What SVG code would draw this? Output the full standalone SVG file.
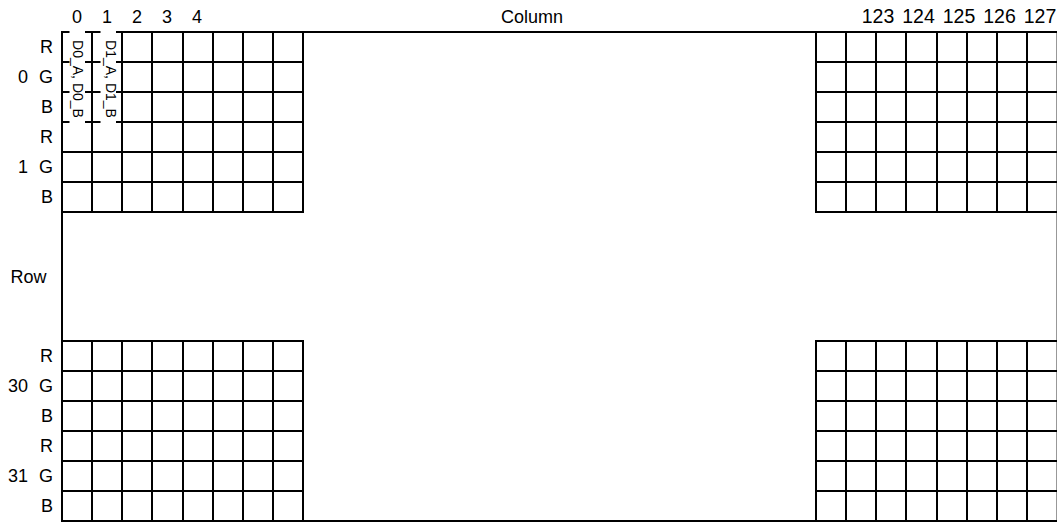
<svg xmlns="http://www.w3.org/2000/svg" width="1057" height="523" viewBox="0 0 1057 523">
<style>
.ln{stroke:#000;stroke-width:2;fill:none}
.t{font-family:"Liberation Sans",Arial,sans-serif;font-size:18px;fill:#000}
.big{font-size:19.5px}
.c{text-anchor:middle}
.r{text-anchor:end}
.v{font-family:"Liberation Sans",Arial,sans-serif;font-size:14px;fill:#000;text-anchor:middle}
</style>
<rect width="1057" height="523" fill="#fff"/>
<g id="frame">
<path class="ln" d="M61 32 H69.5 M85 32 H100.5 M116 32 H1057.6 M62 31 V522 M61 521 H1057.6 M1057.6 32 V521"/>
</g>
<g id="grid-top-left">
<path class="ln" d="M92 32 V212 M122 32 V212 M152 32 V212 M183 32 V212 M213 32 V212 M243 32 V212 M273 32 V212 M303 31 V213"/>
<path class="ln" d="M61 62 H69.5 M85 62 H100.5 M116 62 H303 M61 92 H69.5 M85 92 H100.5 M116 92 H303 M61 122 H69.5 M85 122 H100.5 M116 122 H303 M62 152 H303 M62 182 H303 M61 212 H304"/>
</g>
<g id="grid-top-right">
<path class="ln" d="M816 32 V212 M846 32 V212 M876 32 V212 M906 32 V212 M937 32 V212 M967 32 V212 M997 32 V212 M1027 32 V212"/>
<path class="ln" d="M815 62 H1057.6 M815 92 H1057.6 M815 122 H1057.6 M815 152 H1057.6 M815 182 H1057.6 M815 212 H1057.6"/>
</g>
<g id="grid-bottom-left">
<path class="ln" d="M92 341 V521 M122 341 V521 M152 341 V521 M183 341 V521 M213 341 V521 M243 341 V521 M273 341 V521 M303 340 V522"/>
<path class="ln" d="M61 341 H304 M62 371 H303 M62 401 H303 M62 431 H303 M62 461 H303 M62 491 H303"/>
</g>
<g id="grid-bottom-right">
<path class="ln" d="M816 340 V521 M846 341 V521 M876 341 V521 M906 341 V521 M937 341 V521 M967 341 V521 M997 341 V521 M1027 341 V521"/>
<path class="ln" d="M815 341 H1057.6 M815 371 H1057.6 M815 401 H1057.6 M815 431 H1057.6 M815 461 H1057.6 M815 491 H1057.6"/>
</g>
<g id="cell-D0">
<text class="v" transform="translate(72.5 79) rotate(90)">D0_A, D0_B</text>
</g>
<g id="cell-D1">
<text class="v" transform="translate(105.5 79) rotate(90)">D1_A, D1_B</text>
</g>
<g id="column-labels">
<text class="t c" x="77" y="23">0</text>
<text class="t c" x="107" y="23">1</text>
<text class="t c" x="137" y="23">2</text>
<text class="t c" x="167" y="23">3</text>
<text class="t c" x="197" y="23">4</text>
<text class="t c" x="532" y="23">Column</text>
<text class="t big c" x="878" y="23">123</text>
<text class="t big c" x="918.5" y="23">124</text>
<text class="t big c" x="959" y="23">125</text>
<text class="t big c" x="999.5" y="23">126</text>
<text class="t big c" x="1040" y="23">127</text>
</g>
<g id="row-labels">
<text class="t r" x="53" y="53">R</text>
<text class="t r" x="28" y="83">0</text><text class="t r" x="53" y="83">G</text>
<text class="t r" x="53" y="113">B</text>
<text class="t r" x="53" y="143">R</text>
<text class="t r" x="28" y="173">1</text><text class="t r" x="53" y="173">G</text>
<text class="t r" x="53" y="203">B</text>
<text class="t c" x="28.5" y="283">Row</text>
<text class="t r" x="53" y="362">R</text>
<text class="t r" x="28" y="392">30</text><text class="t r" x="53" y="392">G</text>
<text class="t r" x="53" y="422">B</text>
<text class="t r" x="53" y="452">R</text>
<text class="t r" x="28" y="482">31</text><text class="t r" x="53" y="482">G</text>
<text class="t r" x="53" y="512">B</text>
</g>
</svg>
